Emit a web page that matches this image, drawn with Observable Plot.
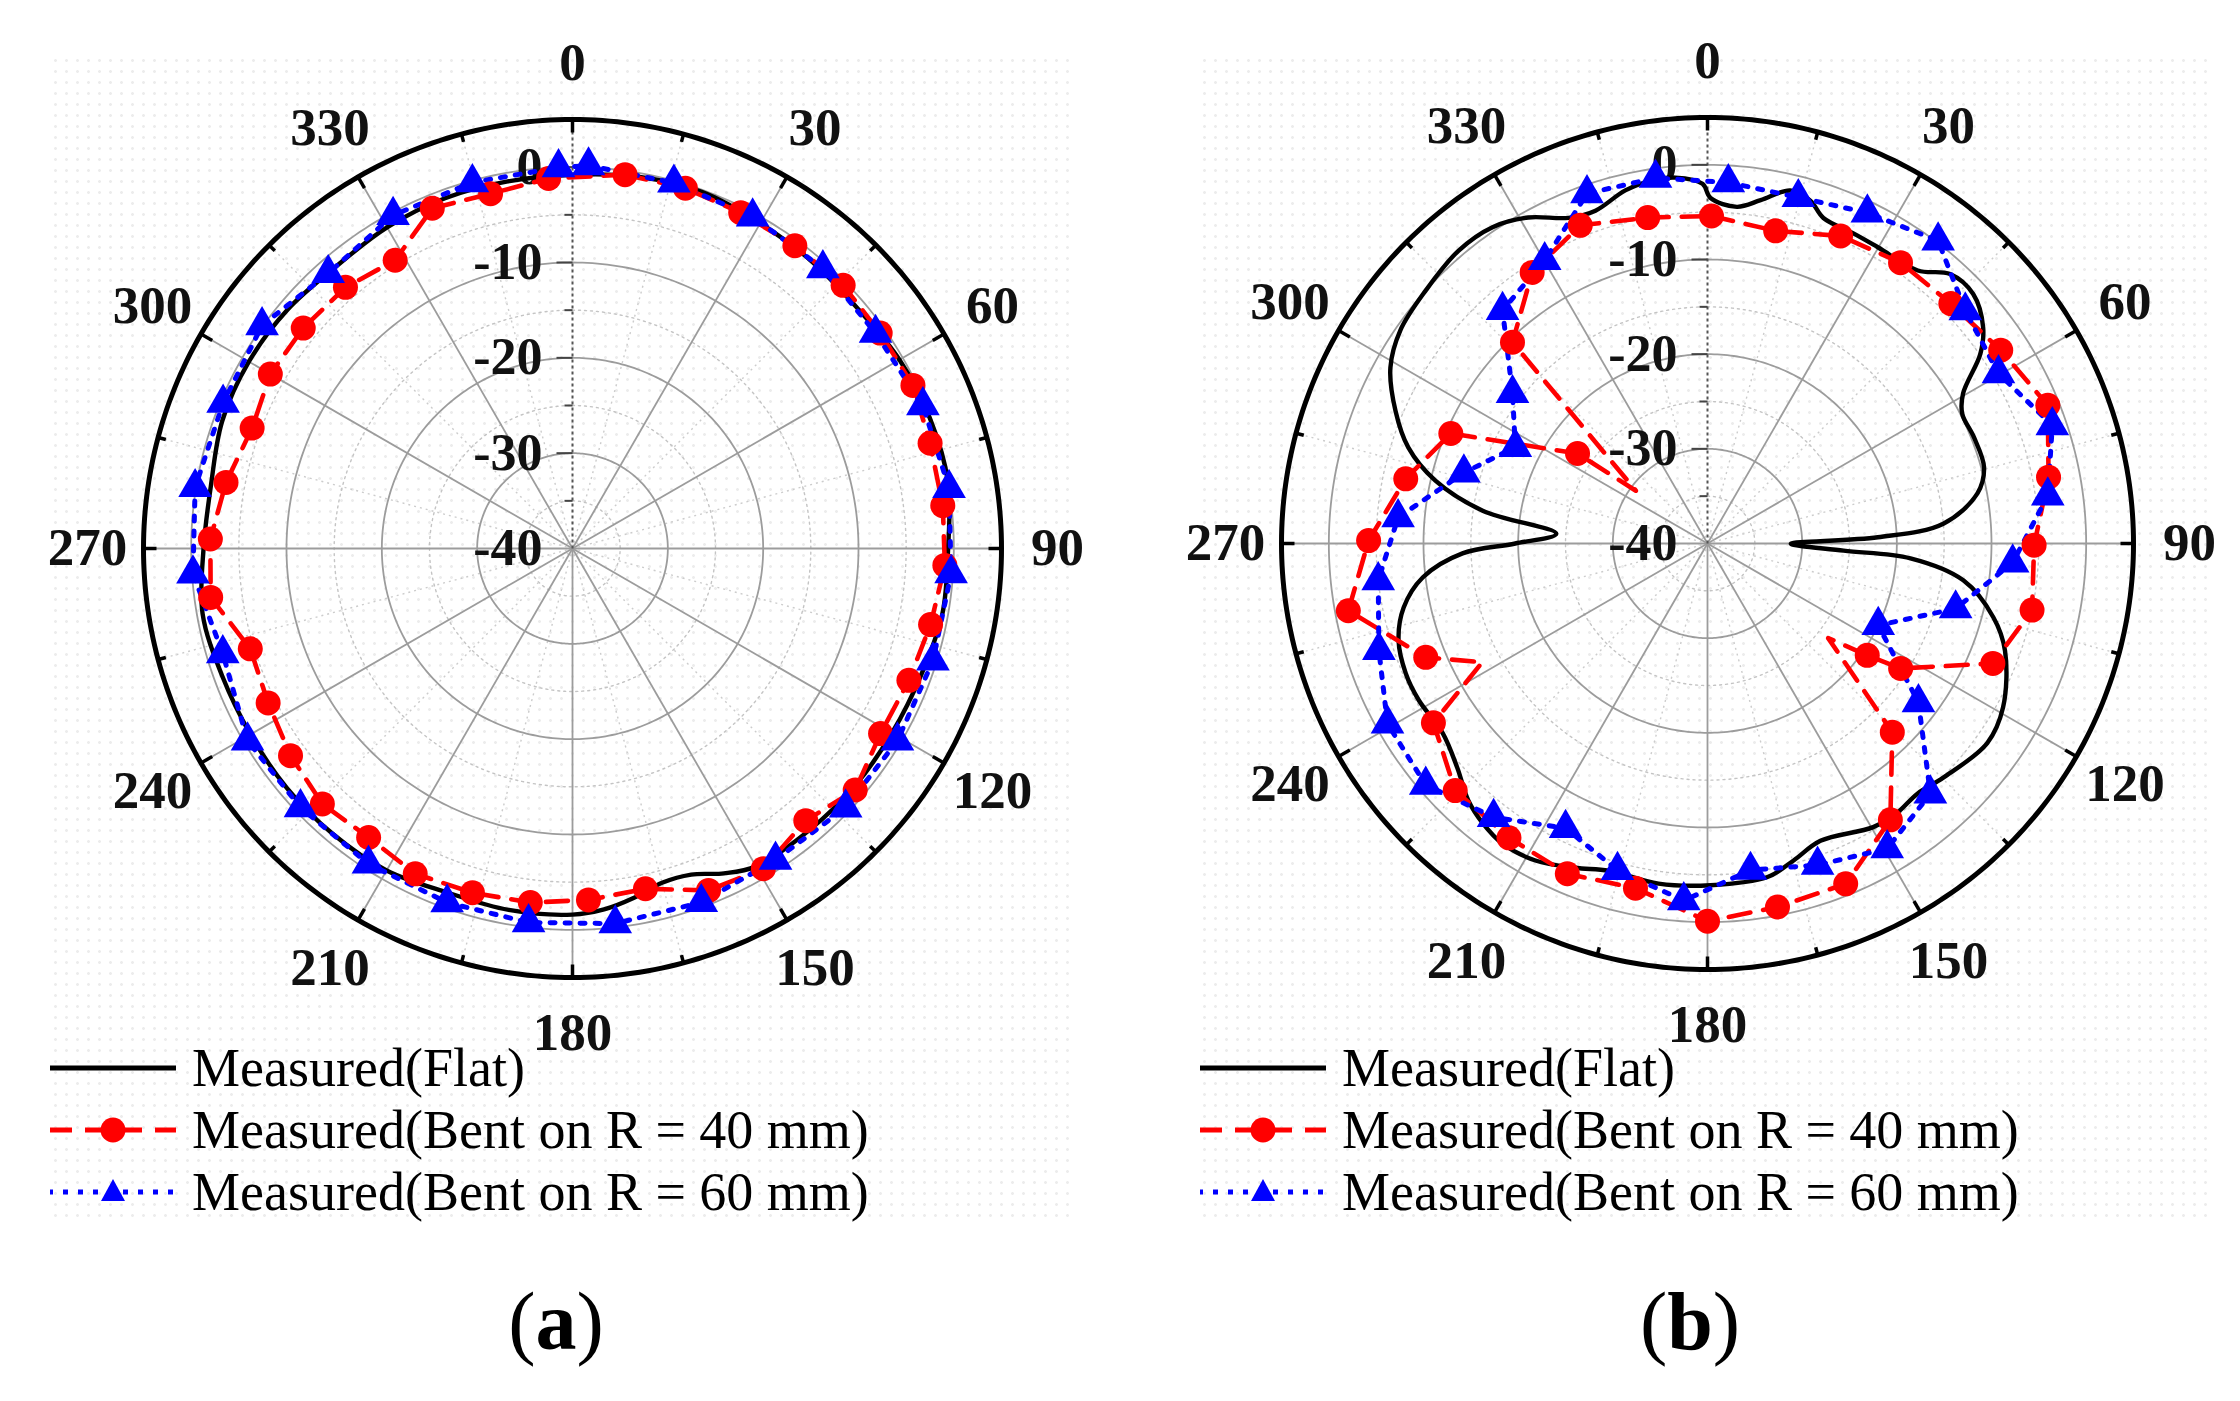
<!DOCTYPE html>
<html>
<head>
<meta charset="utf-8">
<script src="https://cdn.jsdelivr.net/npm/d3@7"></script>
<script src="https://cdn.jsdelivr.net/npm/@observablehq/plot@0.6"></script>
<style>
  html, body { margin: 0; padding: 0; background: #fff; }
  #page { position: relative; width: 2240px; height: 1401px; background: #fff; overflow: hidden; font-family: "Liberation Serif", "Times New Roman", serif; }
  .bg { position: absolute; background-image: radial-gradient(circle, #ececec 1.2px, transparent 1.6px); background-size: 11px 11px; }
  .panel { position: absolute; top: 0; }
  .legrow { position: absolute; height: 62px; display: flex; align-items: center; font-size: 54px; color: #000; white-space: nowrap; }
  .legrow svg { margin-right: 16px; }
  .cap { position: absolute; font-size: 82px; transform: translate(-50%, -50%); white-space: nowrap; }
</style>
</head>
<body>
<div id="page"></div>
<script>
// ---------- tick labels ----------
const angleTicks = [0, 30, 60, 90, 120, 150, 180, 210, 240, 270, 300, 330];
const radialTicks = [-40, -30, -20, -10, 0];
const minorRings = [-35, -25, -15, -5];
const seriesNames = ["Measured(Flat)", "Measured(Bent on R = 40 mm)", "Measured(Bent on R = 60 mm)"];

// ---------- panel (a) ----------
const aFlatAngle = [0,10,20,30,40,50,60,70,80,90,100,110,120,130,140,150,155,160,165,170,175,180,190,200,210,220,230,240,250,260,270,280,290,300,310,320,330,340,350];
const aFlatValue = [-0.8,-0.4,-0.2,-0.6,-0.8,-0.9,-0.4,-0.1,0,-0.6,-0.6,-1.1,-1.3,-1.3,-1.4,-1.5,-2.4,-3.6,-3.7,-2.8,-2.0,-1.6,-1.5,-1.6,-1.0,-0.9,-0.9,-1.0,-0.9,-0.6,-1.3,-1.5,-0.9,-0.8,-1.0,-1.4,-1.1,-0.9,-0.9];

const a40Angle = [8,17.4,26.6,36.3,45.8,55,64.4,73.6,83.4,92.6,102,111.4,121,130.5,139.4,149.2,158.3,167.9,177.4,186.8,196.2,205.8,215.2,224.4,233.7,243.1,252.7,262.3,271.5,280.8,290.6,300,309.3,319,328.4,337.6,347,356.3];
const a40Value = [-0.4,-0.4,-0.6,-0.6,-0.4,-0.6,-0.4,-0.9,-0.9,-0.9,-1.6,-2.1,-2.3,-1.0,-2.4,-0.9,-1.4,-3.5,-3.1,-2.6,-2.4,-2.1,-2.9,-2.5,-3.3,-4.2,-4.6,-1.7,-2.0,-3.0,-4.1,-3.4,-3.5,-3.7,-4.5,-1.4,-1.8,-1.1];
const a40Marker = a40Angle.map(() => 1);

const a60Angle = [2.4,15.5,28.5,41.8,54.6,67.8,80.9,93.8,107.3,120.6,133.5,146.9,160,173.5,186.7,199.5,212.9,226.4,239.4,253.3,266.2,279.2,292.6,305.7,318.4,331.7,344.7,357.9];
const a60Value = [0.2,-0.2,-0.4,-0.6,-1.0,-0.3,0.0,-0.2,-0.4,-0.4,-0.5,-1.0,-0.5,-0.4,-0.5,-0.6,-0.6,-0.6,-0.4,-1.7,-0.1,0.1,-0.3,0.1,-1.4,-0.3,-0.2,0.0];

// ---------- panel (b) ----------
const bFlatAngle = [0.5,5,8.8,13.2,16.7,19.6,25.2,29.9,37.6,42,46.8,51.9,55.2,59.6,63,68.3,74.6,79.5,85.2,87.9,90.2,93,94.2,98.2,104.5,109.8,119,125.5,134.8,140,144.9,149.7,159.2,164.8,169.8,179.5,188.2,196.8,202.2,208.5,214.3,218.8,222.9,228.1,234.4,241.5,246.7,252.6,258.1,263.2,267.7,270,273.7,278.3,283,287.8,293,299,304.8,311.9,319.6,325.8,331.2,336.9,341.4,346.9,351.4,355,359.2];
const bFlatValue = [-3.5,-4.3,-3.3,-1.7,-2.2,-3.5,-3.8,-3.9,-3.6,-1.7,-1.5,-3.0,-4.9,-8.7,-9.8,-9.7,-9.7,-11,-15,-22,-31.2,-25.6,-18.5,-12.7,-8.8,-6.6,-4.3,-3.7,-4.9,-5.5,-5.2,-5.3,-6.4,-5.3,-4.2,-3.9,-3.7,-3.9,-3.0,-1.9,-1.6,-2.1,-2.9,-4.5,-5.6,-5.3,-5.3,-5.8,-7.2,-9.7,-14.1,-19.7,-24,-16,-10.5,-6.8,-4.2,-1.7,-0.5,0.0,0.6,0.4,-0.7,-2.6,-2.9,-1.7,-1.2,-1.2,-2.0];

const b40Angle = [0.7,12.3,23.4,34.5,45.4,56.6,67.9,79,90.3,101.6,112.8,122.9,125,128.1,135.6,146.5,157.9,169.1,180,191.8,203,214,225.6,236.8,242.2,248,259.4,270.5,282.1,293.2,304.7,306.4,315.9,327.1,338.2,349.6];
const b40Value = [-5.4,-6.2,-4.6,-4.0,-3.9,-2.9,-1.2,-3.3,-5.5,-5.0,-7.3,-15.7,-19.4,-23.8,-12.1,-5.0,-1.2,-0.9,-0.1,-2.8,-2.1,-2.5,-2.7,-5.4,-13.1,-7.9,-1.4,-4.2,-7.4,-10.5,-23.3,-30.6,-10.4,-5.9,-3.8,-5.0];
const b40Marker = [1,1,1,1,1,1,1,1,1,1,1,1,1,0,1,1,1,1,1,1,1,1,1,1,0,1,1,1,1,1,1,0,1,1,1,1];

const b60Angle = [3.3,14.7,25.8,37.3,47.9,59.7,71.1,82,93.6,104.7,115.6,127,138.3,149.5,161.1,172.5,183.8,195.4,206.5,218,229.4,240.6,252,263.6,274.8,286.2,296.6,307.6,318.7,330.1,341,351.9];
const b60Value = [-1.8,-2.2,-1.2,0.2,-3.3,-4.4,-1.5,-3.7,-7.7,-12.9,-20,-12.1,-4.6,-2.6,-4.1,-5.2,-2.2,-4.2,-6.4,-3.3,-0.8,-1.2,-3.5,-5.0,-7.2,-13.2,-17.3,-14.0,-7.2,-5.5,-0.9,-1.0];

// ---------- helpers ----------
const RMIN = -40, RMAX = 5;
const rad = d => d * Math.PI / 180;
const rho = v => Math.max(v - RMIN, 0);
const px = (a, v) => rho(v) * Math.sin(rad(a));
const py = (a, v) => rho(v) * Math.cos(rad(a));
const rows = (A, V, M) => A.map((a, i) => ({a, v: V[i], m: M ? M[i] : 1}));
const FONT = "Liberation Serif";

function polarPanel({cx, cy, R, flat, s40, s60}) {
  const W = 1120, H = 1062;
  const k = R / (RMAX - RMIN);
  const ringAngles = d3.range(0, 361, 1);
  const ring = lv => ringAngles.map(a => ({a, l: lv}));
  const majorRings = radialTicks.slice(1).flatMap(ring);
  const minor = minorRings.flatMap(ring);
  const outer = ring(RMAX);
  const spokes = d3.range(30, 360, 30);
  const minorSpokes = d3.range(15, 360, 30);
  const outerTicks = d3.range(0, 360, 15);
  const axisTicks = d3.range(-35, 5, 5);
  return Plot.plot({
    width: W, height: H,
    marginLeft: 0, marginRight: 0, marginTop: 0, marginBottom: 0,
    x: {domain: [-cx / k, (W - cx) / k], axis: null},
    y: {domain: [-(H - cy) / k, cy / k], axis: null},
    style: {background: "transparent", overflow: "visible"},
    marks: [
      // minor dotted rings and spokes
      Plot.line(minor, {x: d => px(d.a, d.l), y: d => py(d.a, d.l), z: "l", stroke: "#c4c4c4", strokeWidth: 1.4, strokeDasharray: "2 4"}),
      Plot.link(minorSpokes, {x1: 0, y1: 0, x2: a => px(a, RMAX), y2: a => py(a, RMAX), stroke: "#cccccc", strokeWidth: 1.4, strokeDasharray: "2 4"}),
      // major rings and spokes
      Plot.line(majorRings, {x: d => px(d.a, d.l), y: d => py(d.a, d.l), z: "l", stroke: "#9c9c9c", strokeWidth: 1.8}),
      Plot.link(spokes, {x1: 0, y1: 0, x2: a => px(a, RMAX), y2: a => py(a, RMAX), stroke: "#9c9c9c", strokeWidth: 1.8}),
      // radial axis on 0 degrees
      Plot.link([0], {x1: 0, y1: 0, x2: 0, y2: RMAX - RMIN, stroke: "#555", strokeWidth: 2, strokeDasharray: "3 3"}),
      Plot.link(axisTicks, {x1: 0, x2: v => -(v % 10 === 0 ? 16 : 8) / k, y1: v => rho(v), y2: v => rho(v), stroke: "#444", strokeWidth: 2}),
      Plot.text(radialTicks, {x: -30 / k, y: v => rho(v), text: v => String(v), textAnchor: "end", fontFamily: FONT, fontWeight: "bold", fontSize: 52, fill: "#111"}),
      // outer frame
      Plot.line(outer, {x: d => px(d.a, d.l), y: d => py(d.a, d.l), stroke: "#000", strokeWidth: 5}),
      Plot.link(outerTicks, {x1: a => px(a, RMAX), y1: a => py(a, RMAX), x2: a => px(a, RMAX - (a % 30 === 0 ? 13 : 8) / k), y2: a => py(a, RMAX - (a % 30 === 0 ? 13 : 8) / k), stroke: "#000", strokeWidth: 3.5}),
      Plot.text(angleTicks, {x: a => px(a, RMAX + 56 / k), y: a => py(a, RMAX + 56 / k), text: a => String(a), fontFamily: FONT, fontWeight: "bold", fontSize: 53, fill: "#111"}),
      // series
      Plot.line(flat, {x: d => px(d.a, d.v), y: d => py(d.a, d.v), curve: "catmull-rom-closed", stroke: "#000", strokeWidth: 4.4}),
      Plot.line(s40, {x: d => px(d.a, d.v), y: d => py(d.a, d.v), curve: "linear-closed", stroke: "#ff0000", strokeWidth: 4.6, strokeDasharray: "22 13"}),
      Plot.line(s60, {x: d => px(d.a, d.v), y: d => py(d.a, d.v), curve: "linear-closed", stroke: "#0000ff", strokeWidth: 5, strokeDasharray: "5 10"}),
      Plot.dot(s40.filter(d => d.m === 1), {x: d => px(d.a, d.v), y: d => py(d.a, d.v), r: 12.5, fill: "#ff0000", stroke: "none"}),
      Plot.dot(s60, {x: d => px(d.a, d.v), y: d => py(d.a, d.v), r: 12.5, symbol: "triangle", fill: "#0000ff", stroke: "none"})
    ]
  });
}

const page = document.getElementById("page");

// faint panel backgrounds
[[50, 55, 1020, 1165], [1199, 55, 1012, 1165]].forEach(([x, y, w, h]) => {
  const b = document.createElement("div");
  b.className = "bg";
  Object.assign(b.style, {left: x + "px", top: y + "px", width: w + "px", height: h + "px"});
  page.appendChild(b);
});

function addPanel(left, cfg) {
  const div = document.createElement("div");
  div.className = "panel";
  div.style.left = left + "px";
  div.appendChild(polarPanel(cfg));
  page.appendChild(div);
}

addPanel(0, {cx: 572, cy: 548, R: 429,
  flat: rows(aFlatAngle, aFlatValue), s40: rows(a40Angle, a40Value, a40Marker), s60: rows(a60Angle, a60Value)});
addPanel(1120, {cx: 587, cy: 543, R: 426,
  flat: rows(bFlatAngle, bFlatValue), s40: rows(b40Angle, b40Value, b40Marker), s60: rows(b60Angle, b60Value)});

// ---------- legends ----------
const swatches = [
  `<svg width="126" height="30"><line x1="0" y1="15" x2="126" y2="15" stroke="#000" stroke-width="5"/></svg>`,
  `<svg width="126" height="30"><line x1="0" y1="15" x2="126" y2="15" stroke="#ff0000" stroke-width="5" stroke-dasharray="22 13"/><circle cx="63" cy="15" r="12.5" fill="#ff0000"/></svg>`,
  `<svg width="126" height="30"><line x1="0" y1="15" x2="126" y2="15" stroke="#0000ff" stroke-width="5" stroke-dasharray="5 10" stroke-dashoffset="2"/><path d="M63,2 L75,24 L51,24 Z" fill="#0000ff"/></svg>`
];
const legendTops = [1068, 1130, 1192];
[50, 1200].forEach(x0 => {
  seriesNames.forEach((name, i) => {
    const row = document.createElement("div");
    row.className = "legrow";
    row.style.left = x0 + "px";
    row.style.top = (legendTops[i] - 31) + "px";
    row.innerHTML = swatches[i] + `<span>${name}</span>`;
    page.appendChild(row);
  });
});

// ---------- captions ----------
[["a", 556], ["b", 1690]].forEach(([t, x]) => {
  const c = document.createElement("div");
  c.className = "cap";
  c.style.left = x + "px";
  c.style.top = "1322px";
  c.innerHTML = `(<b>${t}</b>)`;
  page.appendChild(c);
});
</script>
</body>
</html>
